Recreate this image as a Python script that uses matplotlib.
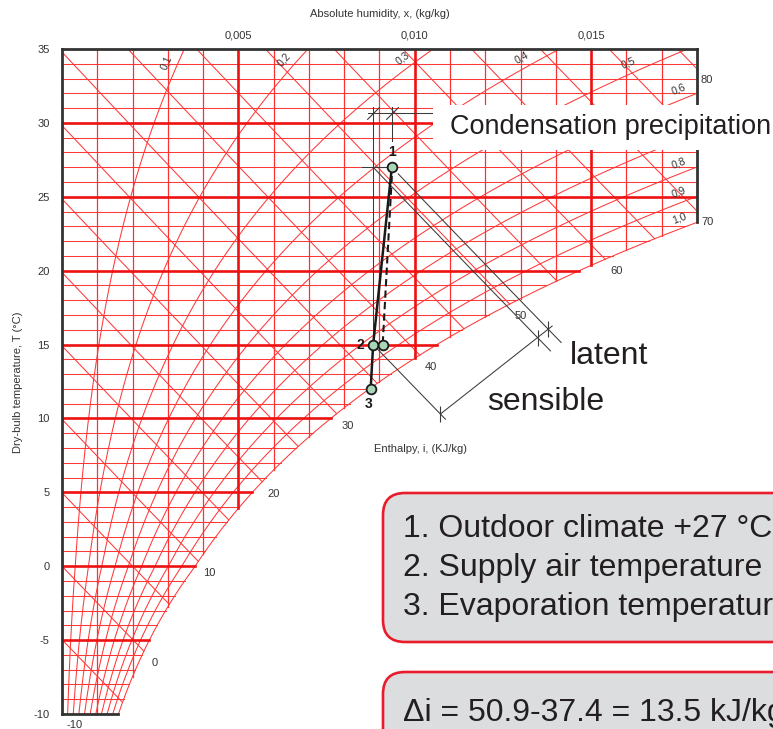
import numpy as np
import matplotlib
matplotlib.use('Agg')
import matplotlib.pyplot as plt
from matplotlib.patches import FancyBboxPatch, Rectangle
from matplotlib.path import Path

plt.rcParams['font.family'] = ['Liberation Sans', 'DejaVu Sans']

# ---------------- data ----------------
T_ticks = [-10, -5, 0, 5, 10, 15, 20, 25, 30, 35]
x_ticks = [0.005, 0.010, 0.015]
x_tick_labels = ['0,005', '0,010', '0,015']
isotherm_levels = list(range(-9, 35))
x_grid_levels = [k / 1000 for k in range(1, 18)]
enthalpy_levels = list(range(-5, 85, 5))
enthalpy_sat_labels = [0, 10, 20, 30, 40, 50, 60]
enthalpy_edge_labels = [70, 80]
rh_levels = [0.1, 0.2, 0.3, 0.4, 0.5, 0.6, 0.7, 0.8, 0.9]
rh_label_values = [0.1, 0.2, 0.3, 0.4, 0.5, 0.6, 0.7, 0.8, 0.9, 1.0]
rh_label_texts = ['0,1', '0,2', '0,3', '0,4', '0,5', '0,6', '0,7', '0,8', '0,9', '1,0']

# process state points: 1, 2 (on path), 2' (dashed end), 3
state_labels = ['1', '2', '', '3']
state_x = [0.00935, 0.00882, 0.00909, 0.00875]
state_T = [27.0, 15.0, 15.0, 12.0]

info_lines = ['1. Outdoor climate +27 °C',
              '2. Supply air temperature',
              '3. Evaporation temperature']
delta_text = 'Δi = 50.9-37.4 = 13.5 kJ/kg'

X_MAX = 0.018
T_MIN, T_MAX = -10, 35
P = 101.325

# ---------------- psychrometrics ----------------
def ps(T):
    T = np.asarray(T, dtype=float)
    return np.where(T >= 0, 0.61094 * np.exp(17.625 * T / (T + 243.04)),
                    0.61115 * np.exp(22.452 * T / (272.55 + T)))

def x_of(phi, T):
    pv = phi * ps(T)
    return 0.622 * pv / (P - pv)

def h_of(x, T):
    return 1.006 * T + x * (2501 + 1.86 * T)

def T_of_h(h, x):
    return (h - 2501 * x) / (1.006 + 1.86 * x)

Tg = np.linspace(T_MIN, T_MAX, 4000)
xs_g = x_of(1.0, Tg)

def T_sat(x):
    return np.interp(x, xs_g, Tg)

# ---------------- figure ----------------
W, H = 773, 729
fig = plt.figure(figsize=(W / 100, H / 100), dpi=100)
ax = fig.add_axes([62 / W, 15 / H, 635 / W, 665 / H])
ax.set_xlim(0, X_MAX)
ax.set_ylim(T_MIN, T_MAX)
for s in ax.spines.values():
    s.set_visible(False)

thin = dict(color='#ff3838', lw=0.75, zorder=2)
thin_v = dict(color='#ff3030', lw=0.9, zorder=2)
thick = dict(color='#ee1111', lw=1.9, zorder=3)

# isotherms
for T in isotherm_levels:
    xe = min(float(x_of(1.0, T)), X_MAX)
    ax.plot([0, xe], [T, T], **(thick if T % 5 == 0 else thin))

# constant humidity verticals
for i, xv in enumerate(x_grid_levels):
    Ts = max(float(T_sat(xv)), T_MIN)
    k = i + 1
    ax.plot([xv, xv], [Ts, T_MAX], **(thick if k % 5 == 0 else thin_v))

# saturation curve
Tsat_line = np.linspace(T_MIN, T_MAX, 600)
ax.plot(x_of(1.0, Tsat_line), Tsat_line, **thin)

# RH curves
for phi in rh_levels:
    ax.plot(x_of(phi, Tsat_line), Tsat_line, **thin)

# enthalpy lines
xx = np.linspace(0, X_MAX, 6000)
def h_end(h):
    f = T_of_h(h, xx) - T_sat(xx)
    idx = np.where(f < 0)[0]
    if len(idx) == 0:
        return X_MAX
    i = idx[0]
    if i == 0:
        return 0.0
    return float(np.interp(0, [f[i], f[i - 1]], [xx[i], xx[i - 1]]))

for h in enthalpy_levels:
    xe = h_end(h)
    if xe <= 0:
        continue
    xl = np.linspace(0, xe, 300)
    ax.plot(xl, T_of_h(h, xl), **thin)

# black frame
fr = dict(color='#333333', lw=2.0, zorder=4, clip_on=False, solid_capstyle='projecting')
ax.plot([0, 0], [T_MIN, T_MAX], **fr)
ax.plot([0, X_MAX], [T_MAX, T_MAX], **fr)
ax.plot([X_MAX, X_MAX], [T_MAX, float(T_sat(X_MAX))], **fr)
ax.plot([0, float(x_of(1.0, T_MIN))], [T_MIN, T_MIN], **fr)

# ticks
ax.set_yticks(T_ticks)
ax.set_yticklabels([str(t) for t in T_ticks])
ax.xaxis.tick_top()
ax.set_xticks(x_ticks)
ax.set_xticklabels(x_tick_labels)
ax.tick_params(axis='both', length=0, labelsize=8, colors='#333333')
ax.tick_params(axis='y', pad=9)
ax.tick_params(axis='x', pad=6)

lab = dict(fontsize=8, color='#333333', ha='center', va='center',
           textcoords='offset pixels', annotation_clip=False)
# enthalpy labels
for h in enthalpy_sat_labels:
    xe = h_end(h)
    ax.annotate(str(h), (xe, T_of_h(h, xe)), xytext=(11, -12), **lab)
for h in enthalpy_edge_labels:
    ax.annotate(str(h), (X_MAX, T_of_h(h, X_MAX)), xytext=(4, -11),
                **{**lab, 'ha': 'left'})
ax.annotate('-10', (0, T_MIN), xytext=(13, -11), **lab)

# RH labels
rh_anchor_T = {0.1: 33.8, 0.2: 33.8, 0.3: 33.8, 0.4: 33.8, 0.5: 33.4}
for phi, txt in zip(rh_label_values, rh_label_texts):
    xg = x_of(phi, Tg)
    if phi in rh_anchor_T:
        Ta = rh_anchor_T[phi]
    else:
        Ta = float(np.interp(0.0176, xg, Tg))
    p0 = ax.transData.transform((float(x_of(phi, Ta - 0.2)), Ta - 0.2))
    p1 = ax.transData.transform((float(x_of(phi, Ta + 0.2)), Ta + 0.2))
    pc = ax.transData.transform((float(x_of(phi, Ta)), Ta))
    d = p1 - p0
    d = d / np.hypot(*d)
    n = np.array([-d[1], d[0]])
    pl = pc + 10.5 * n
    ang = np.degrees(np.arctan2(d[1], d[0]))
    xd, yd = ax.transData.inverted().transform(pl)
    ax.text(xd, yd, txt, fontsize=7.5, color='#333333', rotation=ang,
            rotation_mode='anchor', ha='center', va='center', zorder=5)

# ---------------- process annotations ----------------
blk = dict(color='#3a3a3a', lw=0.75, zorder=6, clip_on=False)
x1, T1 = state_x[0], state_T[0]
x2, T2 = state_x[1], state_T[1]
h1 = h_of(x1, T1)
hm = h_of(x2, T1)
h2 = h_of(x2, T2)

# dimension line across the enthalpy lines
dimA_T, dimB_T = 10.3, 16.25
xA = (h2 - 1.006 * dimA_T) / (2501 + 1.86 * dimA_T)
xB = (h1 + 0.5 - 1.006 * dimB_T) / (2501 + 1.86 * dimB_T)
A = np.array([xA, dimA_T])
B = np.array([xB, dimB_T])
ax.plot([A[0], B[0]], [A[1], B[1]], **blk)
tt = np.linspace(0, 1, 400)
seg = A[None, :] + tt[:, None] * (B - A)[None, :]
hseg = h_of(seg[:, 0], seg[:, 1])
cross_pts = []
for h in [h2, hm, h1]:
    t = float(np.interp(h, hseg, tt))
    cross_pts.append(A + t * (B - A))

cons_start_T = [T1 - 0.45, T1, T2]
cons_h = [h1, hm, h2]
cons_ext = [0.9, 0.9, 0.35]
for h, Ts, cp, ext in zip(cons_h, cons_start_T, [cross_pts[2], cross_pts[1], cross_pts[0]], cons_ext):
    Te = cp[1] - ext
    TT = np.linspace(Ts, Te, 50)
    XX = (h - 1.006 * TT) / (2501 + 1.86 * TT)
    ax.plot(XX, TT, **blk)
for cp in cross_pts:
    ax.plot([cp[0]], [cp[1]], marker='|', ms=11, mew=0.8, color='#3a3a3a', zorder=6)

# condensation dimension at top
T_dim = 30.7
ax.plot([x2 - 0.00015, 0.01063], [T_dim, T_dim], **blk)
ax.plot([x2, x2], [31.1, T2], **blk)
ax.plot([x1, x1], [31.1, 28.8], **blk)
ax.plot([0.0085, x1], [T1, T1], **blk)
slash = Path([(-1, -1), (1, 1)], [Path.MOVETO, Path.LINETO])
for xv in [x2, x1]:
    ax.plot([xv], [T_dim], marker=slash, ms=9, mew=0.8, color='#3a3a3a', zorder=6)

# process lines
ax.plot([state_x[0], state_x[1], state_x[3]], [state_T[0], state_T[1], state_T[3]],
        color='#1a1a1a', lw=1.8, zorder=7)
ax.plot([state_x[0], state_x[2]], [state_T[0] - 0.6, state_T[2]],
        color='#1a1a1a', lw=1.5, dashes=(3.5, 2), zorder=7)
ax.plot(state_x, state_T, 'o', ms=7, mfc='#a9d6b6', mec='#1a1a1a', mew=1.3, zorder=8)
num_off = [(0, 15), (-13, 0), None, (-2, -15)]
for lbl, xv, Tv, off in zip(state_labels, state_x, state_T, num_off):
    if lbl:
        ax.annotate(lbl, (xv, Tv), xytext=off, textcoords='offset pixels',
                    ha='center', va='center', fontsize=10, fontweight='bold',
                    color='#1a1a1a', zorder=9)

# ---------------- overlay (pixel coordinates) ----------------
ov = fig.add_axes([0, 0, 1, 1])
ov.set_xlim(0, W)
ov.set_ylim(H, 0)
ov.axis('off')
ov.set_zorder(10)

txtc = '#231f20'
ov.text(380, 14, 'Absolute humidity, x, (kg/kg)', fontsize=8, color='#333333',
        ha='center', va='center')
ov.text(18, 382, 'Dry-bulb temperature, T (°C)', fontsize=8, color='#333333',
        ha='center', va='center', rotation=90)
ov.text(420, 449, 'Enthalpy, i, (KJ/kg)', fontsize=8, color='#333333',
        ha='center', va='center')

ov.add_patch(Rectangle((433, 105), 400, 45, facecolor='white', edgecolor='none'))
ov.text(450, 127, 'Condensation precipitation', fontsize=19.5, color=txtc,
        ha='left', va='center')
ov.text(570, 356, 'latent', fontsize=23, color=txtc, ha='left', va='center')
ov.text(487, 402, 'sensible', fontsize=23, color=txtc, ha='left', va='center')

for (y0, hgt) in [(493, 149), (672, 120)]:
    ov.add_patch(FancyBboxPatch((383, y0), 460, hgt,
                                boxstyle='round,pad=0,rounding_size=22',
                                facecolor='#dcdddf', edgecolor='#e81c2a', lw=1.9))
for i, line in enumerate(info_lines):
    ov.text(403, 529 + 39 * i, line, fontsize=23, color=txtc, ha='left', va='center')
ov.text(403, 713, delta_text, fontsize=23, color=txtc, ha='left', va='center')

fig.savefig('out.png', dpi=100)
